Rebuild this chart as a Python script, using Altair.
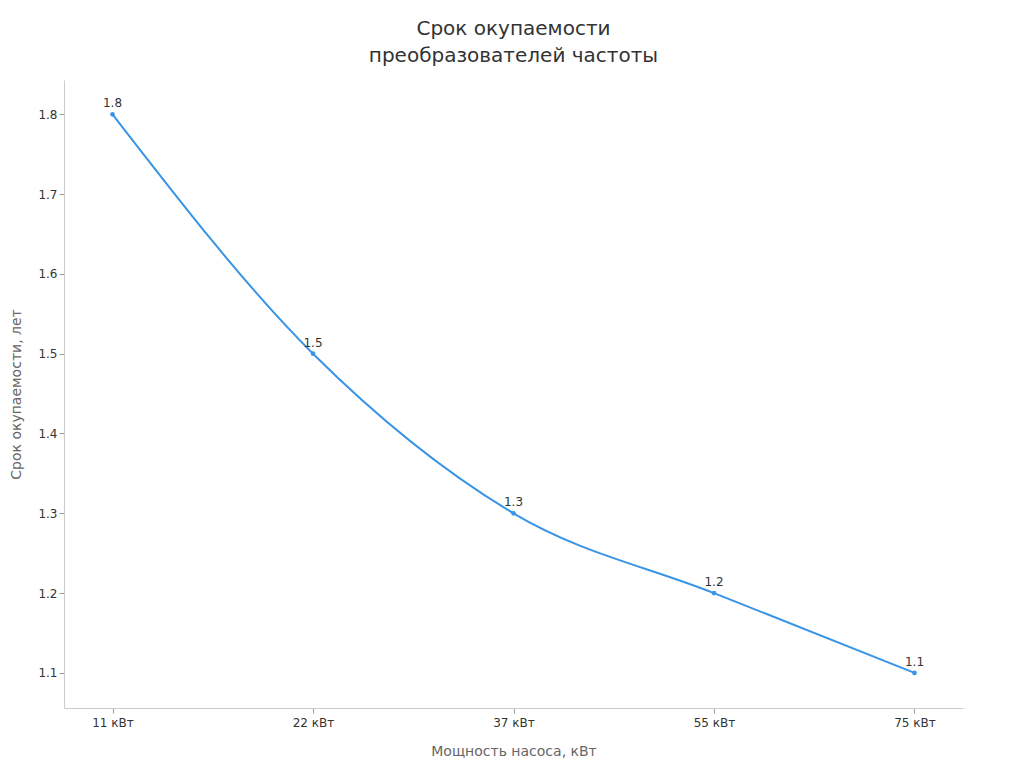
import altair as alt
import pandas as pd

categories = ["11 кВт", "22 кВт", "37 кВт", "55 кВт", "75 кВт"]
payback = [1.8, 1.5, 1.3, 1.2, 1.1]

df = pd.DataFrame({"power": categories, "years": payback})
df["label"] = df["years"].map(lambda v: f"{v:.1f}")

FONT = "DejaVu Sans"
COLOR = "#3a94e6"

x_enc = alt.X("power:N", sort=categories, title="Мощность насоса, кВт",
              scale=alt.Scale(type="point", padding=0.242),
              axis=alt.Axis(labelAngle=0, labelPadding=4, titlePadding=16))
y_enc = alt.Y("years:Q", title="Срок окупаемости, лет",
              scale=alt.Scale(domain=[1.056, 1.843], nice=False, zero=False),
              axis=alt.Axis(values=[1.1, 1.2, 1.3, 1.4, 1.5, 1.6, 1.7, 1.8],
                            format=".1f", titlePadding=14))

base = alt.Chart(df)
line = base.mark_line(color=COLOR, strokeWidth=2, interpolate="monotone").encode(x=x_enc, y=y_enc)
pts = base.mark_point(color=COLOR, filled=True, size=22, opacity=1).encode(x=x_enc, y=y_enc)
txt = base.mark_text(dy=-11, fontSize=12, font=FONT, color="#333333").encode(
    x=x_enc, y=y_enc, text="label:N")

chart = (line + pts + txt).properties(
    width=899, height=628,
    autosize=alt.AutoSizeParams(type="none"),
    padding={"left": 56, "top": 72, "right": 50, "bottom": 50},
    title=alt.Title(["Срок окупаемости", "преобразователей частоты"],
                    fontSize=20, font=FONT, fontWeight="normal", color="#333333",
                    anchor="middle", offset=14, lineHeight=27),
).configure_view(stroke=None).configure_axis(
    grid=False, domainColor="#cccccc", tickColor="#999999", tickSize=5,
    labelFont=FONT, labelFontSize=12, labelColor="#333333",
    titleFont=FONT, titleFontSize=14, titleFontWeight="normal", titleColor="#666666",
)

chart.save("out.html", embed_options={"renderer": "svg", "actions": False})
